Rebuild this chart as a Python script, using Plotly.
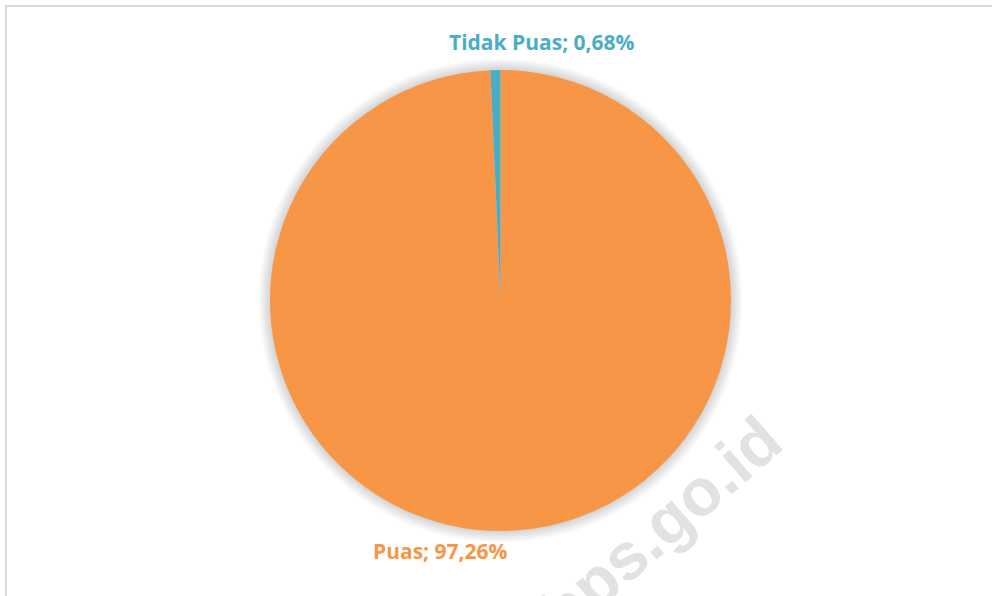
import plotly.graph_objects as go

# Survey result shares (percent)
categories = ["Puas", "Tidak Puas"]
values = [97.26, 0.68]
slice_colors = ["#F79646", "#4BACC6"]

W, H = 992, 596
cx, cy, r = 500.5, 300.5, 230.5  # pie centre / radius in pixels


def px_x(x):
    return x / W


def px_y(y):
    return 1 - y / H


fig = go.Figure()
fig.add_trace(go.Pie(
    labels=categories,
    values=values,
    marker=dict(colors=slice_colors, line=dict(width=0)),
    sort=False,
    direction="clockwise",
    rotation=0,
    textinfo="none",
    hoverinfo="label+percent",
    showlegend=False,
    domain=dict(x=[px_x(cx - r), px_x(cx + r)], y=[px_y(cy + r), px_y(cy - r)]),
))

shapes = []
# soft halo behind the pie
for k in range(1, 15):
    rr = r + k * 0.85
    shapes.append(dict(
        type="circle", xref="paper", yref="paper", layer="below",
        x0=px_x(cx - rr), x1=px_x(cx + rr), y0=px_y(cy + rr), y1=px_y(cy - rr),
        fillcolor="rgba(0,0,0,0.013)", line=dict(width=0),
    ))
# chart frame (left and top edges)
shapes.append(dict(type="line", xref="paper", yref="paper",
                   x0=px_x(6), x1=px_x(6), y0=px_y(6), y1=0,
                   line=dict(color="#D9D9D9", width=2)))
shapes.append(dict(type="line", xref="paper", yref="paper",
                   x0=px_x(5), x1=1, y0=px_y(6), y1=px_y(6),
                   line=dict(color="#D9D9D9", width=2)))


def fmt(v):
    return f"{v:.2f}".replace(".", ",")


label_pos = {"Puas": (440, 551), "Tidak Puas": (542, 42)}
annotations = []
for cat, val, col in zip(categories, values, slice_colors):
    lx, ly = label_pos[cat]
    annotations.append(dict(
        x=px_x(lx), y=px_y(ly), xref="paper", yref="paper",
        text=f"<b>{cat}; {fmt(val)}%</b>", showarrow=False,
        xanchor="center", yanchor="middle",
        font=dict(family="Open Sans", size=21, color=col),
    ))

# watermark
annotations.append(dict(
    x=px_x(660), y=px_y(526), xref="paper", yref="paper",
    text="<b>bps.go.id</b>", showarrow=False, textangle=-41,
    xanchor="center", yanchor="middle",
    font=dict(family="Liberation Sans", size=66, color="#E2E2E2"),
))

fig.update_layout(
    width=W, height=H,
    margin=dict(l=0, r=0, t=0, b=0),
    paper_bgcolor="white",
    plot_bgcolor="white",
    shapes=shapes,
    annotations=annotations,
)

fig.write_html("out.html")
